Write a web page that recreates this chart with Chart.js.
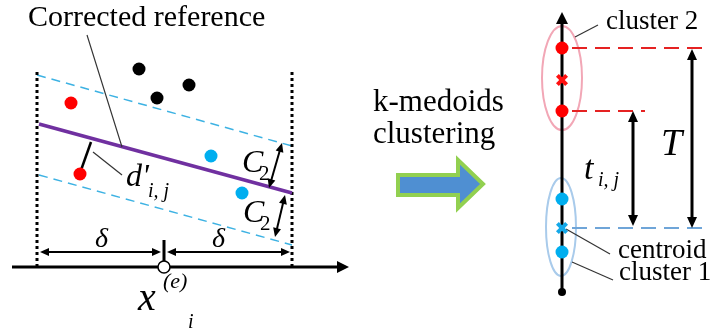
<!DOCTYPE html>
<html>
<head>
<meta charset="utf-8">
<script src="https://cdn.jsdelivr.net/npm/chart.js@4/dist/chart.umd.min.js"></script>
<style>
	body { margin: 0; background: #fff; }
	canvas { display: block; }
</style>
</head>
<body>
<canvas id="diagram" width="710" height="336"></canvas>
<script>
// points of the left panel (before clustering)
const blackDots = [[139, 69], [157, 98], [189, 85]];
const redDots = [[71, 103], [80, 174]];
const cyanDots = [[211, 156], [242, 193]];
const refPoint = [[164, 267]];

// points of the right panel (after clustering)
const cluster2Dots = [[562, 48], [562, 111]];
const cluster1Dots = [[562, 199], [562, 252]];
const cluster2Centre = [[562, 80]];
const cluster1Centre = [[562, 228]];
const axisEnd = [[562, 292]];

// lines
const referenceLine = [[39, 124], [292, 193]];
const upperBand = [[37, 75], [292, 146]];
const lowerBand = [[39, 175], [292, 245]];
const leftWindow = [[37, 72], [37, 268]];
const rightWindow = [[292, 72], [292, 268]];
const xAxis = [[12, 267], [341, 267]];
const xTick = [[164, 240], [164, 262]];
const tAxis = [[562, 20], [562, 292]];
const distLine = [[80, 173], [91, 142]];
const cluster2Top = [[572, 48], [710, 48]];
const cluster2Low = [[572, 111], [645, 111]];
const cluster1Line = [[572, 228], [710, 228]];
const leaders = [
	[[87, 35], [122, 147]],
	[[93, 152], [122, 175]],
	[[575, 37], [598, 25]],
	[[566, 229], [610, 254]],
	[[572, 262], [613, 280]]
];

// arrows [from, to]
const doubleArrows = [
	[[282, 143], [269, 188]],
	[[285, 195], [275, 237]],
	[[40, 252], [161, 252]],
	[[167, 252], [290, 252]],
	[[692, 49], [692, 228]],
	[[633, 111], [633, 226]]
];
const axisHeads = [[[330, 267], [349, 267]], [[562, 30], [562, 12]]];
const blockArrow = [[398, 175], [458, 175], [458, 160], [483, 184], [458, 208], [458, 195], [398, 195]];

const ellipses = [
	{ c: [562, 78], r: [20, 52], color: "#F2A7B6" },
	{ c: [561, 227], r: [15, 49], color: "#A9CBEB" }
];

const labels = [
	{ t: "Corrected reference", p: [28, 26], s: 30 },
	{ t: "d'", p: [126, 186], s: 32, i: true },
	{ t: "i, j", p: [148, 197], s: 20, i: true },
	{ t: "C", p: [242, 172], s: 32, i: true },
	{ t: "2", p: [259, 180], s: 21 },
	{ t: "C", p: [243, 222], s: 32, i: true },
	{ t: "2", p: [260, 230], s: 21 },
	{ t: "δ", p: [95, 247], s: 28, i: true },
	{ t: "δ", p: [212, 247], s: 28, i: true },
	{ t: "x", p: [138, 310], s: 40, i: true },
	{ t: "(e)", p: [163, 288], s: 22, i: true },
	{ t: "i", p: [188, 328], s: 20, i: true },
	{ t: "k-medoids", p: [373, 111], s: 31 },
	{ t: "clustering", p: [373, 143], s: 31 },
	{ t: "cluster 2", p: [606, 29], s: 27 },
	{ t: "T", p: [661, 155], s: 38, i: true },
	{ t: "t", p: [584, 179], s: 34, i: true },
	{ t: "i, j", p: [598, 186], s: 20, i: true },
	{ t: "centroid", p: [618, 258], s: 27 },
	{ t: "cluster 1", p: [619, 280], s: 27 }
];

const toXY = arr => arr.map(([x, y]) => ({ x, y }));

function lineSet(pts, color, width, dash) {
	return {
		data: toXY(pts), showLine: true, pointRadius: 0,
		borderColor: color, borderWidth: width, borderDash: dash || [],
		borderCapStyle: "butt"
	};
}

function dotSet(pts, color, radius, style) {
	return {
		data: toXY(pts), showLine: false, pointRadius: radius,
		pointStyle: style || "circle",
		backgroundColor: color, borderColor: color, borderWidth: 0
	};
}

const overlay = {
	id: "overlay",
	beforeDatasetsDraw(chart) {
		const ctx = chart.ctx;
		const X = v => chart.scales.x.getPixelForValue(v);
		const Y = v => chart.scales.y.getPixelForValue(v);
		ctx.save();
		// block arrow
		ctx.beginPath();
		blockArrow.forEach(([x, y], k) => k ? ctx.lineTo(X(x), Y(y)) : ctx.moveTo(X(x), Y(y)));
		ctx.closePath();
		ctx.fillStyle = "#4F8FD2";
		ctx.fill();
		ctx.lineJoin = "miter";
		ctx.lineWidth = 4;
		ctx.strokeStyle = "#92D050";
		ctx.stroke();
		// ellipses
		ellipses.forEach(e => {
			ctx.beginPath();
			const rx = X(e.c[0] + e.r[0]) - X(e.c[0]);
			const ry = Math.abs(Y(e.c[1] + e.r[1]) - Y(e.c[1]));
			ctx.ellipse(X(e.c[0]), Y(e.c[1]), rx, ry, 0, 0, Math.PI * 2);
			ctx.lineWidth = 2;
			ctx.strokeStyle = e.color;
			ctx.stroke();
		});
		ctx.restore();
	},
	afterDatasetsDraw(chart) {
		const ctx = chart.ctx;
		const X = v => chart.scales.x.getPixelForValue(v);
		const Y = v => chart.scales.y.getPixelForValue(v);
		ctx.save();
		ctx.fillStyle = "#000";
		ctx.strokeStyle = "#000";

		function head(fx, fy, tx, ty, len, half) {
			const a = Math.atan2(ty - fy, tx - fx);
			ctx.beginPath();
			ctx.moveTo(tx, ty);
			ctx.lineTo(tx - len * Math.cos(a) + half * Math.sin(a), ty - len * Math.sin(a) - half * Math.cos(a));
			ctx.lineTo(tx - len * Math.cos(a) - half * Math.sin(a), ty - len * Math.sin(a) + half * Math.cos(a));
			ctx.closePath();
			ctx.fill();
		}

		doubleArrows.forEach(([a, b]) => {
			const x1 = X(a[0]), y1 = Y(a[1]), x2 = X(b[0]), y2 = Y(b[1]);
			const big = Math.abs(x2 - x1) < 1 && Math.abs(y2 - y1) > 100;
			ctx.lineWidth = big ? 3 : 2;
			const ang = Math.atan2(y2 - y1, x2 - x1), inset = 6;
			ctx.beginPath();
			ctx.moveTo(x1 + inset * Math.cos(ang), y1 + inset * Math.sin(ang));
			ctx.lineTo(x2 - inset * Math.cos(ang), y2 - inset * Math.sin(ang));
			ctx.stroke();
			const len = big ? 11 : 9, half = big ? 5 : 4;
			head(x2, y2, x1, y1, len, half);
			head(x1, y1, x2, y2, len, half);
		});
		axisHeads.forEach(([a, b]) => head(X(a[0]), Y(a[1]), X(b[0]), Y(b[1]), 12, 6));

		ctx.textBaseline = "alphabetic";
		labels.forEach(l => {
			ctx.font = (l.i ? "italic " : "") + l.s + 'px "Liberation Serif"';
			ctx.fillText(l.t, X(l.p[0]), Y(l.p[1]));
		});
		ctx.restore();
	}
};

// listed bottom to top; Chart.js paints dataset 0 last, so reverse
const datasets = [
	lineSet(upperBand, "#3DB2E3", 1.5, [9, 6]),
	lineSet(lowerBand, "#3DB2E3", 1.5, [9, 6]),
	lineSet(leftWindow, "#000", 3, [3, 3]),
	lineSet(rightWindow, "#000", 3, [3, 3]),
	lineSet(referenceLine, "#7030A0", 3.5),
	...leaders.map(l => lineSet(l, "#333", 1.2)),
	lineSet(distLine, "#000", 2.5),
	lineSet(xAxis, "#000", 3),
	lineSet(xTick, "#000", 3),
	lineSet(tAxis, "#000", 3),
	lineSet(cluster2Top, "#E52222", 2, [15, 8]),
	lineSet(cluster2Low, "#E52222", 2, [15, 8]),
	lineSet(cluster1Line, "#6FA5D8", 2, [15, 8]),
	dotSet(blackDots, "#000", 6.5),
	dotSet(redDots, "#FF0000", 6.5),
	dotSet(cyanDots, "#00AEEF", 6.5),
	dotSet(cluster2Dots, "#FF0000", 6.5),
	dotSet(cluster1Dots, "#00AEEF", 6.5),
	dotSet(axisEnd, "#000", 4),
	{ data: toXY(cluster2Centre), pointStyle: "crossRot", pointRadius: 6.5, borderColor: "#FF1010", borderWidth: 4 },
	{ data: toXY(cluster1Centre), pointStyle: "crossRot", pointRadius: 6.5, borderColor: "#14A8E8", borderWidth: 4 },
	{ data: toXY(refPoint), pointRadius: 6, backgroundColor: "#fff", borderColor: "#000", borderWidth: 1.5 }
].reverse();

new Chart(document.getElementById("diagram"), {
	type: "scatter",
	data: { datasets },
	options: {
		responsive: false,
		animation: false,
		layout: { padding: 0, autoPadding: false },
		scales: {
			x: { type: "linear", min: 0, max: 710, display: false },
			y: { type: "linear", min: 0, max: 336, reverse: true, display: false }
		},
		plugins: { legend: { display: false }, tooltip: { enabled: false } }
	},
	plugins: [overlay]
});
</script>
</body>
</html>
